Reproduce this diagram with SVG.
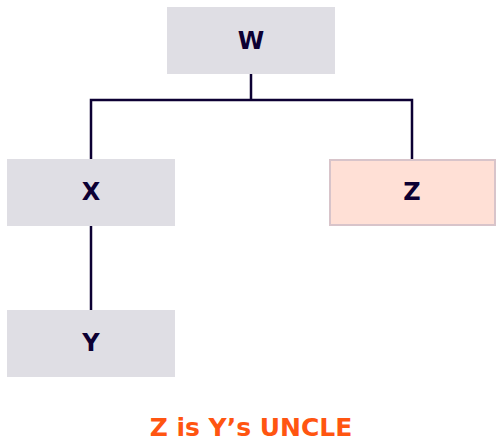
<svg xmlns="http://www.w3.org/2000/svg" width="504" height="442" viewBox="0 0 504 442">
<style>
.box{fill:#dfdee4}
.hl{fill:#ffe0d6;stroke:#d8c4ca;stroke-width:2}
.lbl{font-family:"DejaVu Sans",sans-serif;font-weight:bold;font-size:24px;fill:#0c0033;text-anchor:middle}
.edge{stroke:#0c0033;stroke-width:2.5;fill:none}
.cap{font-family:"DejaVu Sans",sans-serif;font-weight:bold;font-size:25px;fill:#ff5511;text-anchor:middle}
</style>
<rect width="504" height="442" fill="#ffffff"/>
<g id="connectors">
<path class="edge" d="M251 74V100M91 161V100H412V161"/>
<path class="edge" d="M91 226V311"/>
</g>
<g id="W"><rect class="box" x="167" y="7" width="168" height="67"/><text class="lbl" x="251" y="49">W</text></g>
<g id="X"><rect class="box" x="7" y="159" width="168" height="67"/><text class="lbl" x="91" y="200">X</text></g>
<g id="Z"><rect class="hl" x="330" y="160" width="165" height="65"/><text class="lbl" x="412" y="200">Z</text></g>
<g id="Y"><rect class="box" x="7" y="310" width="168" height="67"/><text class="lbl" x="91" y="351">Y</text></g>
<text class="cap" x="251" y="436">Z is Y’s UNCLE</text>
</svg>
